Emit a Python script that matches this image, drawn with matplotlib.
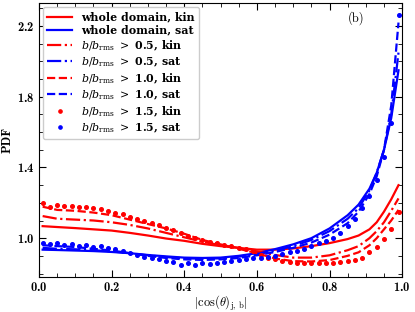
import matplotlib
matplotlib.use("Agg")
import matplotlib.pyplot as plt
import numpy as np
from matplotlib.font_manager import FontProperties
from matplotlib.ticker import MultipleLocator, FixedLocator

plt.rcParams["font.family"] = ["cmb10", "DejaVu Serif"]
plt.rcParams["mathtext.fontset"] = "cm"
plt.rcParams["axes.formatter.use_mathtext"] = True

# x grid for the line curves
x_line = [0.01, 0.05, 0.10, 0.15, 0.20, 0.25, 0.30, 0.35, 0.40, 0.45, 0.50, 0.55,
          0.60, 0.65, 0.70, 0.75, 0.80, 0.85, 0.88, 0.91, 0.93, 0.95, 0.97, 0.99]

whole_kin = [1.068, 1.063, 1.057, 1.050, 1.043, 1.030, 1.015, 0.998, 0.985, 0.968, 0.955, 0.945,
             0.935, 0.935, 0.942, 0.955, 0.972, 0.995, 1.015, 1.050, 1.090, 1.150, 1.220, 1.300]
whole_sat = [0.935, 0.933, 0.930, 0.927, 0.922, 0.915, 0.905, 0.897, 0.890, 0.888, 0.890, 0.900,
             0.915, 0.938, 0.965, 1.000, 1.055, 1.130, 1.190, 1.280, 1.370, 1.500, 1.680, 1.950]
b05_kin = [1.125, 1.110, 1.105, 1.100, 1.090, 1.075, 1.055, 1.030, 1.005, 0.980, 0.960, 0.945,
           0.925, 0.905, 0.890, 0.890, 0.903, 0.932, 0.955, 1.000, 1.040, 1.090, 1.155, 1.225]
b05_sat = [0.945, 0.940, 0.937, 0.932, 0.925, 0.915, 0.903, 0.893, 0.886, 0.884, 0.886, 0.895,
           0.910, 0.930, 0.955, 0.990, 1.040, 1.110, 1.170, 1.270, 1.370, 1.500, 1.700, 2.050]
b10_kin = [1.178, 1.160, 1.155, 1.145, 1.130, 1.105, 1.080, 1.055, 1.025, 0.990, 0.965, 0.940,
           0.915, 0.885, 0.870, 0.868, 0.876, 0.900, 0.920, 0.960, 1.000, 1.050, 1.100, 1.160]
b10_sat = [0.960, 0.955, 0.950, 0.940, 0.930, 0.915, 0.900, 0.888, 0.880, 0.877, 0.880, 0.888,
           0.903, 0.922, 0.945, 0.975, 1.020, 1.085, 1.150, 1.250, 1.350, 1.500, 1.750, 2.220]

# binned points for b/b_rms > 1.5
x_dot = np.arange(0.01, 1.0, 0.02)
b15_kin = [1.200, 1.178, 1.190, 1.180, 1.183, 1.175, 1.178, 1.168, 1.165, 1.155,
           1.145, 1.135, 1.120, 1.110, 1.098, 1.085, 1.075, 1.060, 1.045, 1.030,
           1.010, 1.000, 0.990, 0.980, 0.970, 0.960, 0.955, 0.945, 0.940, 0.925,
           0.905, 0.890, 0.880, 0.872, 0.865, 0.860, 0.858, 0.858, 0.860, 0.860,
           0.862, 0.865, 0.870, 0.878, 0.890, 0.920, 0.950, 0.995, 1.050, 1.150]
b15_sat = [0.975, 0.965, 0.970, 0.960, 0.965, 0.955, 0.960, 0.950, 0.955, 0.945,
           0.940, 0.925, 0.915, 0.905, 0.895, 0.890, 0.880, 0.870, 0.865, 0.848,
           0.860, 0.850, 0.858, 0.852, 0.862, 0.865, 0.870, 0.875, 0.880, 0.885,
           0.890, 0.895, 0.900, 0.910, 0.920, 0.930, 0.940, 0.955, 0.970, 0.985,
           1.000, 1.030, 1.070, 1.110, 1.170, 1.240, 1.330, 1.460, 1.650, 2.260]

fig = plt.figure(figsize=(4.15, 3.12), dpi=100)
ax = fig.add_axes([0.094, 0.112, 0.875, 0.878])

lw = 1.6
ax.plot(x_line, whole_kin, color="red", lw=lw, label="whole domain, kin")
ax.plot(x_line, whole_sat, color="blue", lw=lw, label="whole domain, sat")
ax.plot(x_line, b05_kin, color="red", lw=lw, ls="-.", label=r"$b/b_{\rm rms}\ >\ $0.5, kin")
ax.plot(x_line, b05_sat, color="blue", lw=lw, ls="-.", label=r"$b/b_{\rm rms}\ >\ $0.5, sat")
ax.plot(x_line, b10_kin, color="red", lw=lw, ls="--", label=r"$b/b_{\rm rms}\ >\ $1.0, kin")
ax.plot(x_line, b10_sat, color="blue", lw=lw, ls="--", label=r"$b/b_{\rm rms}\ >\ $1.0, sat")
ax.plot(x_dot, b15_kin, color="red", ls="none", marker="o", ms=2.6, label=r"$b/b_{\rm rms}\ >\ $1.5, kin")
ax.plot(x_dot, b15_sat, color="blue", ls="none", marker="o", ms=2.6, label=r"$b/b_{\rm rms}\ >\ $1.5, sat")

ax.set_xlim(0, 1)
ax.set_ylim(0.78, 2.33)
ax.xaxis.set_major_locator(MultipleLocator(0.2))
ax.xaxis.set_minor_locator(MultipleLocator(0.05))
ax.yaxis.set_major_locator(FixedLocator([1.0, 1.4, 1.8, 2.2]))
ax.yaxis.set_minor_locator(MultipleLocator(0.1))
ax.tick_params(which="both", direction="in", top=True, right=True, labelsize=9)
ax.tick_params(which="major", length=5, width=0.8)
ax.tick_params(which="minor", length=3, width=0.6)
ax.tick_params(axis="x", pad=2.5)
for s in ax.spines.values():
    s.set_linewidth(0.8)

ax.set_xlabel(r"$|\cos(\theta)_{\rm j,\,b}|$", fontsize=9, labelpad=0)
ax.set_ylabel("PDF", fontsize=9, labelpad=2)
ax.text(0.873, 0.945, "(b)", transform=ax.transAxes, ha="center", va="center",
        fontsize=9, family="cmr10")

leg_font = FontProperties(family="DejaVu Serif", weight="bold", size=7.9,
                          math_fontfamily="dejavuserif")
ax.legend(loc="upper left", prop=leg_font, handlelength=2.3, labelspacing=0.22,
          borderpad=0.4, handletextpad=0.8, framealpha=1, numpoints=1,
          markerscale=0.9, borderaxespad=0.35)

fig.savefig("out.png", dpi=100)
